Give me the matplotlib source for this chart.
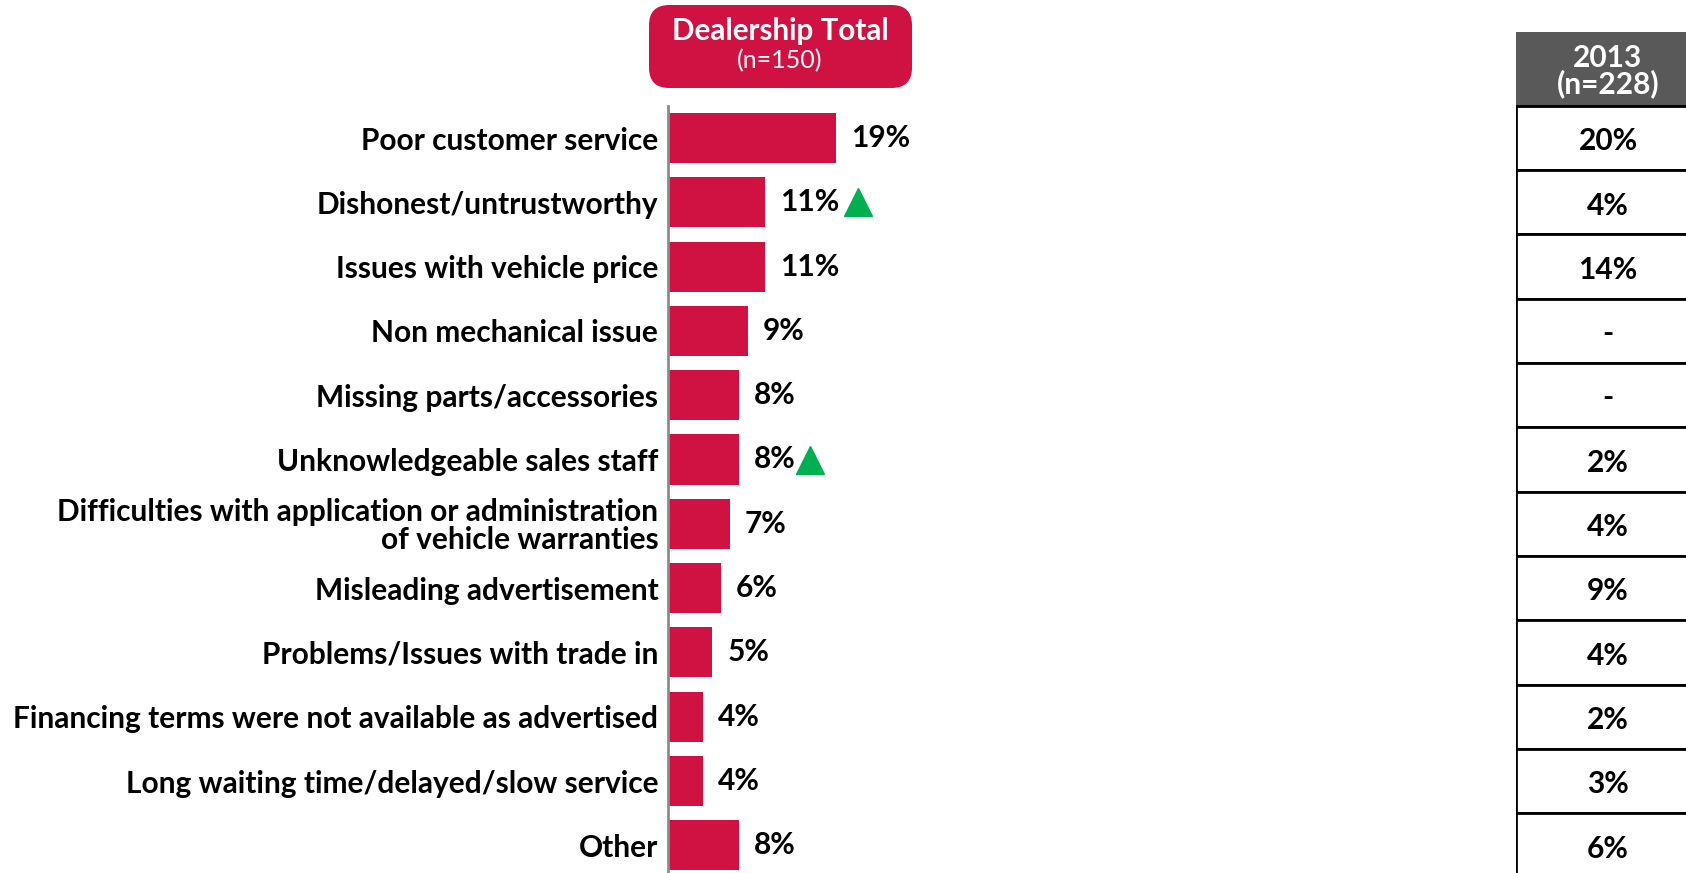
import matplotlib.pyplot as plt
import numpy as np
from matplotlib.patches import FancyBboxPatch, Rectangle

plt.rcParams["font.family"] = ["Lato", "DejaVu Sans"]

categories = [
    "Poor customer service",
    "Dishonest/untrustworthy",
    "Issues with vehicle price",
    "Non mechanical issue",
    "Missing parts/accessories",
    "Unknowledgeable sales staff",
    "Difficulties with application or administration\nof vehicle warranties",
    "Misleading advertisement",
    "Problems/Issues with trade in",
    "Financing terms were not available as advertised",
    "Long waiting time/delayed/slow service",
    "Other",
]
values = [19, 11, 11, 9, 8, 8, 7, 6, 5, 4, 4, 8]
values_2013 = ["20%", "4%", "14%", "-", "-", "2%", "4%", "9%", "4%", "2%", "3%", "6%"]
sig_up = [1, 5]  # rows flagged with a green up arrow

RED = "#D01242"
GREEN = "#00B050"
GRAY_HDR = "#595959"
FS = 21.5

W, H = 1686, 873
fig = plt.figure(figsize=(W / 100, H / 100), dpi=100)

# bar area: axis line at x=668 px, 1% = 8.84 px
px_per_pct = 8.84
x0 = 668
xmax = 50
row_h = 64.3
y_first = 138
ax_top = 106
ylo = (H - y_first) / row_h
yhi = (ax_top - y_first) / row_h

ax = fig.add_axes([x0 / W, 0, xmax * px_per_pct / W, (H - ax_top) / H])
y = np.arange(len(categories))
ax.barh(y, values, height=0.78, color=RED)
ax.set_xlim(0, xmax)
ax.set_ylim(ylo, yhi)
for s in ["top", "right", "bottom"]:
    ax.spines[s].set_visible(False)
ax.spines["left"].set_color("#8C8C8C")
ax.spines["left"].set_linewidth(2)
ax.set_xticks([])
ax.set_yticks(y)
ax.set_yticklabels(categories, fontsize=FS, fontweight="bold", linespacing=1.0)
ax.tick_params(axis="y", length=0, pad=7)

for i, v in enumerate(values):
    ax.annotate(f"{v}%", (v, i), xytext=(15, 0), textcoords="offset pixels",
                va="center", ha="left", fontsize=FS, fontweight="bold")

arrow_off = {1: 10.5, 5: 8.1}
for i in sig_up:
    ax.plot(values[i] + arrow_off[i], i, marker="^", ms=20, color=GREEN,
            linestyle="none", clip_on=False)

# header box
hdr = FancyBboxPatch((649 / W, 1 - 88 / H), (912 - 649) / W, (88 - 5) / H,
                     boxstyle="round,pad=0,rounding_size=0.012",
                     transform=fig.transFigure, facecolor=RED, edgecolor="none",
                     mutation_aspect=W / H)
fig.patches.append(hdr)
fig.text(780 / W, 1 - 31 / H, "Dealership Total", ha="center", va="center",
         color="white", fontsize=21.3, fontweight="bold")
fig.text(780 / W, 1 - 61 / H, "(n=150)", ha="center", va="center",
         color="white", fontsize=18)

# 2013 comparison table
tx0, tx1 = 1516, 1700
t_top = 32
tax = fig.add_axes([tx0 / W, 0, (tx1 - tx0) / W, (H - t_top) / H])
tax.set_xlim(0, 1)
tax.set_ylim(ylo, (t_top - y_first) / row_h)
tax.axis("off")
hdr_top = (t_top - y_first) / row_h
tax.add_patch(Rectangle((0, -0.5), 1, hdr_top + 0.5, facecolor=GRAY_HDR,
                        edgecolor="none"))
tax.text(0.5, (hdr_top - 0.5) / 2 + 0.03, "2013\n(n=228)", ha="center", va="center",
         color="white", fontsize=21.5, fontweight="bold", linespacing=0.9)
for i, t in enumerate(values_2013):
    tax.add_patch(Rectangle((0, i - 0.5), 1, 1, facecolor="white",
                            edgecolor="black", linewidth=2))
    tax.text(0.5, i + 0.05, t, ha="center", va="center",
             fontsize=FS, fontweight="bold")

fig.savefig("out.png", dpi=100)
